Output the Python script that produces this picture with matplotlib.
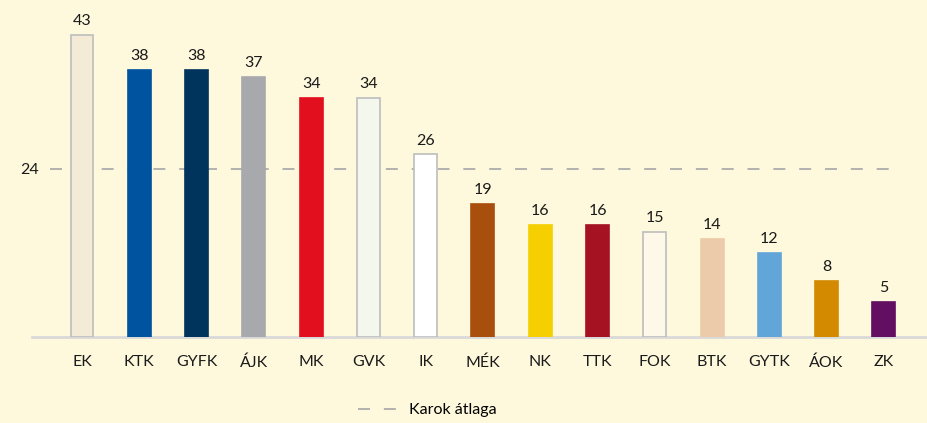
import matplotlib.pyplot as plt
from matplotlib.lines import Line2D

plt.rcParams["font.family"] = ["Lato", "DejaVu Sans"]

faculties = ["EK", "KTK", "GYFK", "ÁJK", "MK", "GVK", "IK", "MÉK",
             "NK", "TTK", "FOK", "BTK", "GYTK", "ÁOK", "ZK"]
values = [43, 38, 38, 37, 34, 34, 26, 19, 16, 16, 15, 14, 12, 8, 5]
average = 24
colors = ["#F3EBD6", "#00539F", "#00345C", "#A8A9AD", "#E2101E", "#F4F7EC",
          "#FFFFFF", "#A84F0E", "#F5CF00", "#A51221", "#FEF8E8", "#EBCBA9",
          "#62A5D8", "#D38A00", "#620F62"]
outlined = ["EK", "GVK", "IK", "FOK"]

BG = "#FEF9DC"
DASH = (7.2, 8.3)

fig = plt.figure(figsize=(9.28, 4.23), dpi=100, facecolor=BG)
ax = fig.add_axes([32 / 928, (423 - 337) / 423, (928 - 32) / 928, 337 / 423])
ax.set_facecolor(BG)

x = range(len(faculties))
for i, (name, v, c) in enumerate(zip(faculties, values, colors)):
    edge = "#BDBDBD" if name in outlined else c
    ax.bar(i, v, width=0.4, color=c, edgecolor=edge, linewidth=1.2, zorder=3)
    ax.annotate(str(v), (i, v), xytext=(0, 5), textcoords="offset points",
                ha="center", va="bottom", fontsize=11.5, color="#1a1a1a")

ax.axhline(average, xmin=(50 - 32) / 896, xmax=(900 - 32) / 896,
           color="#A6A6A6", linewidth=1.2, dashes=DASH, zorder=1)

ax.set_xlim(-0.873, 14.77)
ax.set_ylim(0, 337 / 7.02)
ax.set_xticks(list(x))
ax.set_xticklabels(faculties, fontsize=11.5, color="#1a1a1a")
ax.set_yticks([average])
ax.set_yticklabels([str(average)], fontsize=11.5, color="#1a1a1a")
ax.tick_params(axis="x", length=0, pad=13)
ax.tick_params(axis="y", length=0, pad=-5)
for s in ["top", "right", "left"]:
    ax.spines[s].set_visible(False)
ax.spines["bottom"].set_color("#D9D9D9")
ax.spines["bottom"].set_linewidth(2)

handle = Line2D([], [], color="#A6A6A6", linewidth=1.2, dashes=DASH)
fig.legend([handle], ["Karok átlaga"], loc="center", bbox_to_anchor=(0.46, 1 - 410 / 423),
           frameon=False, fontsize=11.5, handlelength=2.6, handletextpad=0.6)

fig.savefig("out.png", dpi=100, facecolor=BG)
